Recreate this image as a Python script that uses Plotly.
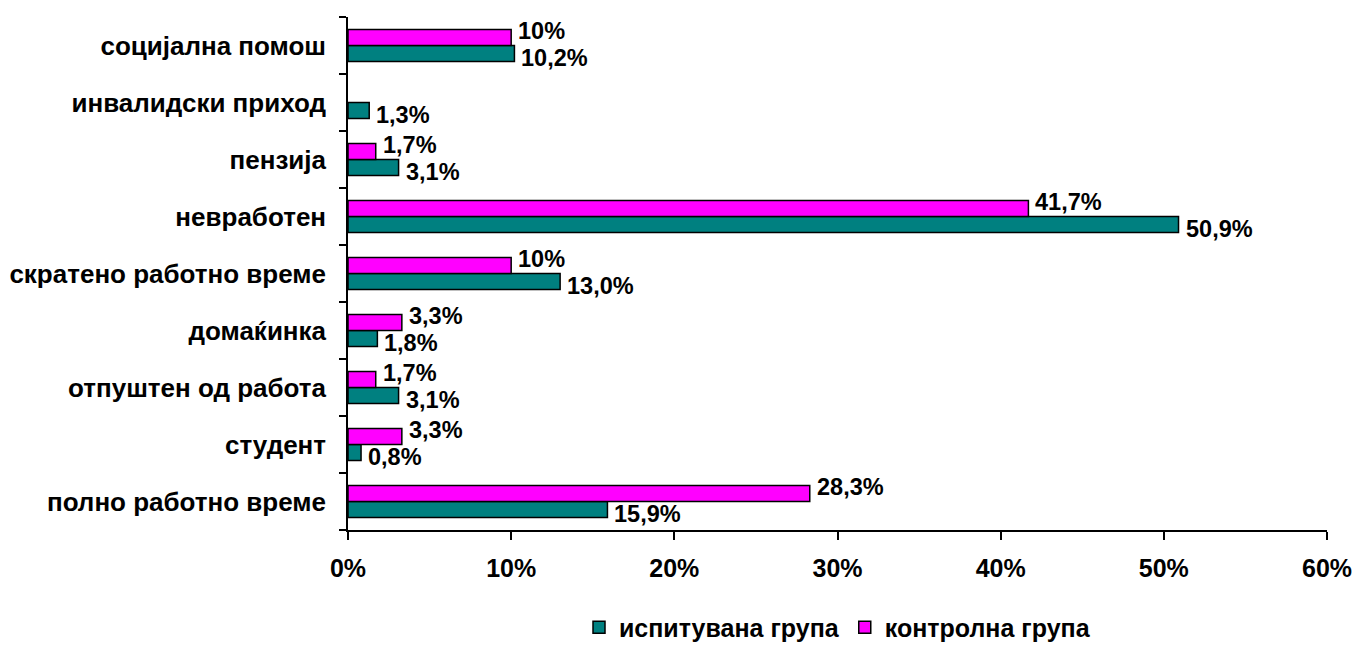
import plotly.graph_objects as go

categories = [
    "полно работно време",
    "студент",
    "отпуштен од работа",
    "домаќинка",
    "скратено работно време",
    "невработен",
    "пензија",
    "инвалидски приход",
    "социјална помош",
]
ispituvana = [15.9, 0.8, 3.1, 1.8, 13.0, 50.9, 3.1, 1.3, 10.2]
kontrolna = [28.3, 3.3, 1.7, 3.3, 10.0, 41.7, 1.7, None, 10.0]
ispituvana_labels = ["15,9%", "0,8%", "3,1%", "1,8%", "13,0%", "50,9%", "3,1%", "1,3%", "10,2%"]
kontrolna_labels = ["28,3%", "3,3%", "1,7%", "3,3%", "10%", "41,7%", "1,7%", "", "10%"]
x_tickvals = [0, 10, 20, 30, 40, 50, 60]
x_ticktext = ["0%", "10%", "20%", "30%", "40%", "50%", "60%"]

FONT = "Liberation Sans, Arial, sans-serif"
TEAL = "#008080"
MAGENTA = "#FF00FF"

BARGAP = 0.44
half = (1 - BARGAP) / 4  # center offset of each bar in a group of two

fig = go.Figure()
fig.add_trace(go.Bar(
    name="испитувана група", orientation="h", y=categories, x=ispituvana,
    marker=dict(color=TEAL, line=dict(color="black", width=1.5)),
))
fig.add_trace(go.Bar(
    name="контролна група", orientation="h", y=categories, x=kontrolna,
    marker=dict(color=MAGENTA, line=dict(color="black", width=1.5)),
))

label_font = dict(family=FONT, size=23.5, color="black", weight="bold")
annotations = []
for i, (v, t) in enumerate(zip(ispituvana, ispituvana_labels)):
    if v is None or not t:
        continue
    annotations.append(dict(x=v, y=i - half, xref="x", yref="y", text=t, showarrow=False,
                            xanchor="left", yanchor="middle", xshift=5, yshift=-5,
                            font=label_font))
for i, (v, t) in enumerate(zip(kontrolna, kontrolna_labels)):
    if v is None or not t:
        continue
    annotations.append(dict(x=v, y=i + half, xref="x", yref="y", text=t, showarrow=False,
                            xanchor="left", yanchor="middle", xshift=5, yshift=7,
                            font=label_font))

fig.update_layout(
    width=1355, height=646,
    margin=dict(l=348, r=28, t=17, b=116, autoexpand=False),
    paper_bgcolor="white", plot_bgcolor="white",
    barmode="group", bargap=BARGAP, bargroupgap=0,
    font=dict(family=FONT, size=22, color="black", weight="bold"),
    showlegend=True,
    legend=dict(orientation="h", x=0.5, xanchor="center", y=-0.19, yanchor="middle",
                font=dict(family=FONT, size=25, color="black", weight="bold"),
                itemwidth=30, traceorder="normal"),
    annotations=annotations,
)
fig.update_xaxes(
    range=[0, 60], tickvals=x_tickvals, ticktext=x_ticktext,
    showgrid=False, zeroline=False, showline=True, linecolor="black", linewidth=1.5,
    ticks="outside", ticklen=8, tickwidth=1.5, tickcolor="black",
    tickfont=dict(family=FONT, size=25, color="black", weight="bold"),
    ticklabelstandoff=7,
)
fig.update_yaxes(
    type="category", categoryorder="array", categoryarray=categories,
    range=[-0.5, len(categories) - 0.5],
    showgrid=False, zeroline=False, showline=True, linecolor="black", linewidth=1.5,
    ticks="outside", ticklen=7, tickwidth=1.5, tickcolor="black", tickson="boundaries",
    tickfont=dict(family=FONT, size=26, color="black", weight="bold"),
    ticklabelstandoff=15,
)

fig.write_html("out.html", config={"displayModeBar": False},
               post_script="document.body.style.margin='0';")
